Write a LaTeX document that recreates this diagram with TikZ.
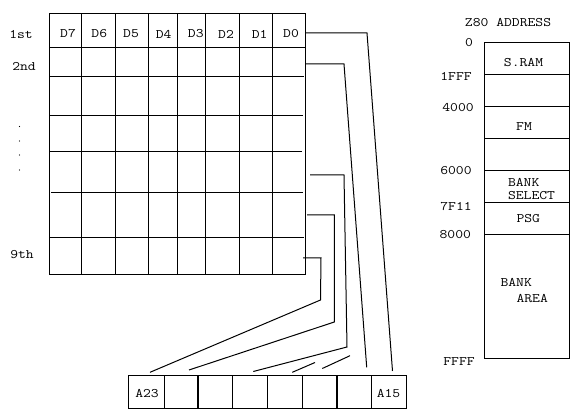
\documentclass[tikz,border=0pt]{standalone}
\usepackage{fontspec}
\setmainfont{Latin Modern Mono}[FakeStretch=1.17]
\begin{document}
\begin{tikzpicture}[x=1pt,y=-1pt,line width=1pt,
  lbl/.style={font=\fontsize{13}{14}\selectfont, inner sep=0pt, anchor=center},
  lblw/.style={lbl, anchor=west},
  wire/.style={line width=1pt},
  thickdiv/.style={line width=1.8pt}]
\useasboundingbox (0,0) rectangle (571,411);
% ---------- data grid ----------
\draw (49,14) rectangle (305,275);
\foreach \x in {81,115,148,177,205,239,272}
  \draw (\x,14) -- (\x,275);
\draw (49,48) -- (305,48);
\draw (49,77) -- (304,77);
\draw (49,116) -- (303,116);
\draw (49,152) -- (302,152);
\draw (51,193) -- (303,193);
\draw (49,238) -- (304,238);
% column headers
\node[lbl] (d7) at (68,34) {D7};
\node[lbl] (d6) at (99.3,34) {D6};
\node[lbl] (d5) at (131,34) {D5};
\node[lbl] (d4) at (163.7,34) {D4};
\node[lbl] (d3) at (195.8,34) {D3};
\node[lbl] (d2) at (226,34) {D2};
\node[lbl] (d1) at (259.7,34) {D1};
\node[lbl] (d0) at (291,34) {D0};
% row labels
\node[lbl] (r1) at (21,34) {1st};
\node[lbl] (r2) at (24,66) {2nd};
\node[lbl] (r9) at (22,255) {9th};
\foreach \y/\n in {126.5/a,141/b,155/c,170/d}
  \fill (19.5,\y) coordinate (dot\n) circle (0.6pt);
% ---------- address register ----------
\draw (128,376) rectangle (406,409);
\foreach \x in {164,232,267,302,371}
  \draw (\x,376) -- (\x,409);
\draw[thickdiv] (198,376) -- (198,409);
\draw[thickdiv] (337,376) -- (337,409);
\node[lbl] (a23) at (147,393.5) {A23};
\node[lbl] (a15) at (388.5,393.5) {A15};
% ---------- connectors ----------
\coordinate (s1) at (305,33);   \coordinate (m1) at (367,33);   \coordinate (e1) at (392.5,371);
\coordinate (s2) at (305,64);   \coordinate (m2) at (344,64);   \coordinate (e2) at (366.7,367.3);
\coordinate (s3) at (310,175);  \coordinate (m3) at (344,175);  \coordinate (k3) at (347,347);  \coordinate (e3) at (253.3,371.5);
\coordinate (s4) at (307,215);  \coordinate (m4) at (334.3,215);\coordinate (k4) at (334.3,322);\coordinate (e4) at (189,370);
\coordinate (s5) at (303,258);  \coordinate (m5) at (321,258);  \coordinate (k5) at (320.5,300);\coordinate (e5) at (150,372.3);
\coordinate (t1a) at (292.3,372.3); \coordinate (t1b) at (315,362.5);
\coordinate (t2a) at (322.3,368.5); \coordinate (t2b) at (350,355.7);
\draw[wire] (s1) -- (m1) -- (e1);
\draw[wire] (s2) -- (m2) -- (e2);
\draw[wire] (s3) -- (m3) -- (k3) -- (e3);
\draw[wire] (s4) -- (m4) -- (k4) -- (e4);
\draw[wire] (s5) -- (m5) -- (k5) -- (e5);
\draw[wire] (t1a) -- (t1b);
\draw[wire] (t2a) -- (t2b);
% ---------- Z80 memory map ----------
\node[lbl] (title) at (508,23) {Z80 ADDRESS};
\draw (484,43) rectangle (569,359);
\foreach \y in {75,107,139,171,203,235}
  \draw (484,\y) -- (569,\y);
\node[lbl] (ad0) at (469,43) {0};
\node[lbl] (ad1) at (456,76) {1FFF};
\node[lbl] (ad2) at (458,108) {4000};
\node[lbl] (ad3) at (456,171) {6000};
\node[lbl] (ad4) at (456,207) {7F11};
\node[lbl] (ad5) at (455.3,235) {8000};
\node[lbl] (ad6) at (459,362) {FFFF};
\node[lbl] (sram) at (523.5,63) {S.RAM};
\node[lbl] (fm) at (524,127) {FM};
\node[lblw] (bs1) at (507.5,182) {BANK};
\node[lblw] (bs2) at (507.5,195.3) {SELECT};
\node[lbl] (psg) at (528.3,219) {PSG};
\node[lblw] (ba1) at (500,282) {BANK};
\node[lblw] (ba2) at (516,298.3) {AREA};
\end{tikzpicture}
\end{document}
